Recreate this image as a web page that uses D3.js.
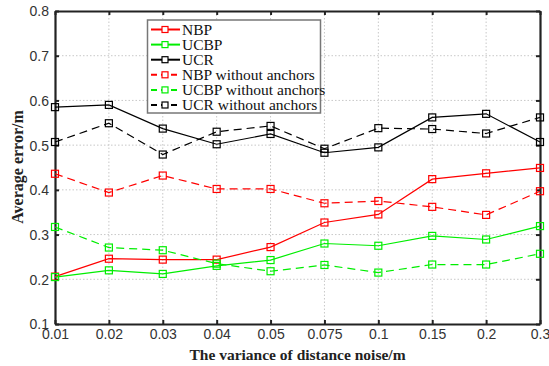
<!DOCTYPE html>
<html>
<head>
<meta charset="utf-8">
<script src="https://cdn.jsdelivr.net/npm/d3@7"></script>
<style>
  body { margin: 0; background: #fff; }
  svg { display: block; }
</style>
</head>
<body>
<svg id="chart" width="549" height="366"></svg>
<script>
// x categories (evenly spaced, treated as labels)
const noiseLevels = ['0.01', '0.02', '0.03', '0.04', '0.05', '0.075', '0.1', '0.15', '0.2', '0.3'];
const yTicks = [0.1, 0.2, 0.3, 0.4, 0.5, 0.6, 0.7, 0.8];

const nbp       = [0.206, 0.246, 0.244, 0.244, 0.272, 0.327, 0.345, 0.424, 0.437, 0.449];
const ucbp      = [0.205, 0.220, 0.212, 0.230, 0.243, 0.280, 0.275, 0.297, 0.289, 0.319];
const ucr       = [0.585, 0.590, 0.537, 0.502, 0.525, 0.483, 0.495, 0.562, 0.570, 0.507];
const nbpNoAnc  = [0.436, 0.394, 0.432, 0.402, 0.402, 0.370, 0.375, 0.362, 0.344, 0.397];
const ucbpNoAnc = [0.317, 0.271, 0.265, 0.235, 0.218, 0.232, 0.215, 0.233, 0.233, 0.257];
const ucrNoAnc  = [0.507, 0.549, 0.479, 0.530, 0.543, 0.492, 0.538, 0.536, 0.526, 0.562];

const series = [
  { name: 'NBP', values: nbp, color: '#ff0000', dash: null },
  { name: 'UCBP', values: ucbp, color: '#00ee00', dash: null },
  { name: 'UCR', values: ucr, color: '#000000', dash: null },
  { name: 'NBP without anchors', values: nbpNoAnc, color: '#ff0000', dash: '8,5' },
  { name: 'UCBP without anchors', values: ucbpNoAnc, color: '#00ee00', dash: '8,5' },
  { name: 'UCR without anchors', values: ucrNoAnc, color: '#000000', dash: '8,5' }
];

const svg = d3.select('#chart');
const mLeft = 55, mRight = 540, mTop = 11, mBottom = 324;
const fontSans = "'Liberation Sans', Arial, sans-serif";
const fontSerif = "'Liberation Serif', 'Times New Roman', serif";

const x = d3.scalePoint().domain(noiseLevels).range([mLeft, mRight]);
const y = d3.scaleLinear().domain([0.1, 0.8]).range([mBottom, mTop]);

// grid
const grid = svg.append('g').attr('stroke', '#c8c8c8').attr('stroke-width', 1).attr('stroke-dasharray', '1.5,2');
grid.selectAll('.gx').data(noiseLevels.slice(1, -1)).enter().append('line')
  .attr('x1', d => x(d)).attr('x2', d => x(d)).attr('y1', mTop).attr('y2', mBottom);
grid.selectAll('.gy').data(yTicks.slice(1, -1)).enter().append('line')
  .attr('x1', mLeft).attr('x2', mRight).attr('y1', d => y(d)).attr('y2', d => y(d));

// axes
const xAxis = svg.append('g').attr('transform', `translate(0,${mBottom})`)
  .call(d3.axisBottom(x).tickSizeInner(-4).tickSizeOuter(0).tickPadding(5));
const yAxis = svg.append('g').attr('transform', `translate(${mLeft},0)`)
  .call(d3.axisLeft(y).tickValues(yTicks).tickFormat(d3.format('.1f')).tickSizeInner(-4).tickSizeOuter(0).tickPadding(6));
const xTop = svg.append('g').attr('transform', `translate(0,${mTop})`)
  .call(d3.axisTop(x).tickSizeInner(-4).tickSizeOuter(0).tickFormat(''));
const yRight = svg.append('g').attr('transform', `translate(${mRight},0)`)
  .call(d3.axisRight(y).tickValues(yTicks).tickSizeInner(-4).tickSizeOuter(0).tickFormat(''));

[xAxis, yAxis, xTop, yRight].forEach(g => {
  g.select('.domain').attr('stroke', '#222').attr('stroke-width', 2.2);
  g.selectAll('.tick line').attr('stroke', '#222').attr('stroke-width', 2);
  g.selectAll('.tick text').attr('fill', '#333').style('font-family', fontSans).style('font-size', '14px');
});
yAxis.selectAll('.tick text').attr('dy', '0.35em');
xAxis.selectAll('.tick text').attr('dy', '0.71em');

// lines + markers
const line = d3.line().x((d, i) => x(noiseLevels[i])).y(d => y(d));
series.forEach(s => {
  svg.append('path').datum(s.values)
    .attr('d', line).attr('fill', 'none')
    .attr('stroke', s.color).attr('stroke-width', 1.2)
    .attr('stroke-dasharray', s.dash);
  svg.append('g').selectAll('rect').data(s.values).enter().append('rect')
    .attr('x', (d, i) => x(noiseLevels[i]) - 3.5).attr('y', d => y(d) - 3.5)
    .attr('width', 7).attr('height', 7)
    .attr('fill', 'none').attr('stroke', s.color).attr('stroke-width', 1.2);
});

// legend
const lg = svg.append('g');
lg.append('rect').attr('x', 147.5).attr('y', 20).attr('width', 173).attr('height', 93)
  .attr('fill', '#fff').attr('stroke', '#777').attr('stroke-width', 1.5);
const rowY = d3.scalePoint().domain(series.map(s => s.name)).range([29.5, 105]);
series.forEach(s => {
  const yy = rowY(s.name);
  lg.append('line').attr('x1', 151).attr('x2', 180).attr('y1', yy).attr('y2', yy)
    .attr('stroke', s.color).attr('stroke-width', 2).attr('stroke-dasharray', s.dash ? '6,4' : null);
  lg.append('rect').attr('x', 162).attr('y', yy - 3).attr('width', 6).attr('height', 6)
    .attr('fill', '#fff').attr('stroke', s.color).attr('stroke-width', 1.2);
  lg.append('text').attr('x', 182).attr('y', yy).attr('dy', '0.35em')
    .style('font-family', fontSerif).style('font-size', '15.5px')
    .attr('fill', '#111').text(s.name);
});

// axis titles
svg.append('text').attr('x', (mLeft + mRight) / 2).attr('y', 355).attr('dy', '0.32em')
  .attr('text-anchor', 'middle')
  .style('font-family', fontSerif).style('font-size', '15.5px').style('font-weight', 'bold')
  .attr('fill', '#222').text('The variance of distance noise/m');
svg.append('text').attr('transform', 'translate(17,167) rotate(-90)').attr('dy', '0.35em')
  .attr('text-anchor', 'middle')
  .style('font-family', fontSerif).style('font-size', '16px').style('font-weight', 'bold')
  .attr('fill', '#222').text('Average error/m');
</script>
</body>
</html>
